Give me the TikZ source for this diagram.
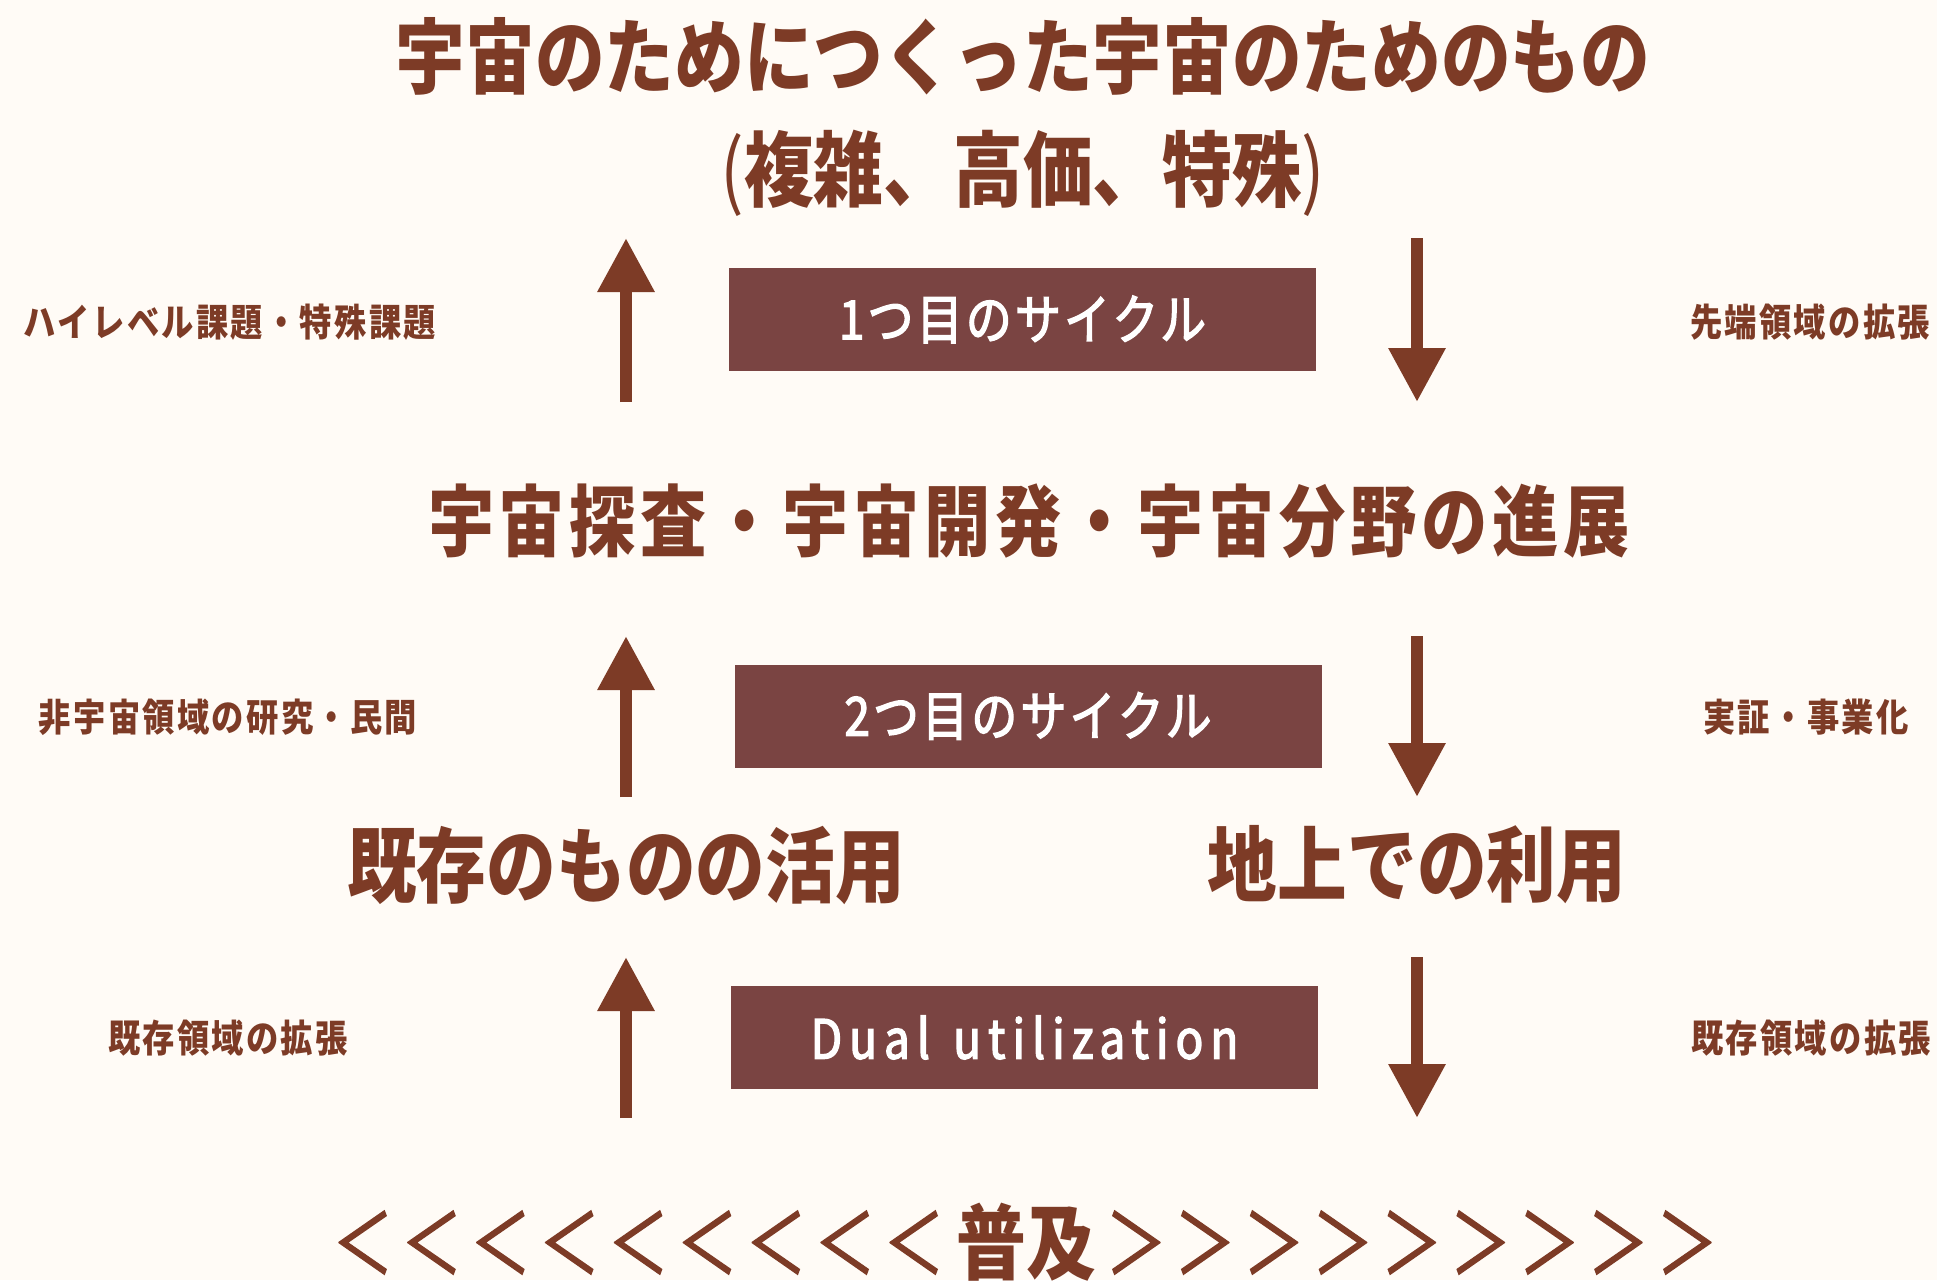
\documentclass[tikz,border=0pt]{standalone}
\usepackage{fontspec}
\usetikzlibrary{arrows.meta}
\newfontfamily\jp[FakeStretch=0.85]{Noto Sans CJK JP}
\newfontfamily\jpsp[FakeStretch=0.85,LetterSpace=6]{Noto Sans CJK JP}
\newfontfamily\jpbox[FakeStretch=0.85,LetterSpace=6,FakeBold=2.5]{Noto Sans CJK JP}
\newfontfamily\latbox[FakeStretch=0.85,LetterSpace=13,FakeBold=2.5]{Noto Sans CJK JP}
\newfontfamily\chevf[FakeStretch=0.74,LetterSpace=10,FakeBold=1.5]{Noto Sans CJK JP}
\definecolor{bgc}{RGB}{255,251,246}
\definecolor{rust}{RGB}{125,59,38}
\definecolor{boxc}{RGB}{122,68,66}
\tikzset{
  big/.style={inner sep=0pt, text=rust, font=\jp\bfseries\fontsize{82}{90}\selectfont},
  mid/.style={inner sep=0pt, text=rust, font=\jpsp\bfseries\fontsize{78}{86}\selectfont},
  side/.style={inner sep=0pt, text=rust, font=\jpsp\bfseries\fontsize{38}{44}\selectfont},
  cycbox/.style={inner sep=0pt, fill=boxc, text=white, minimum width=587pt, minimum height=103pt, font=\jpbox\fontsize{54}{60}\selectfont},
  bigarrow/.style={draw=rust, line width=12.5pt, -{Triangle[width=54pt,length=54pt]}}
}
\newcommand{\chev}[1]{{\chevf\mdseries\fontsize{82}{90}\selectfont #1}}
\newcommand{\thinp}[1]{{\mdseries #1}}
\begin{document}
\begin{tikzpicture}[x=1pt,y=-1pt]
\fill[bgc] (0,0) rectangle (1937,1280);
\useasboundingbox (0,0) rectangle (1937,1280);
% headings
\node[big] (t1) at (1023,56) {宇宙のためにつくった宇宙のためのもの};
\node[big] (t2) at (1023,173) {\thinp{(}複雑、高価、特殊\thinp{)}};
\node[mid] (m) at (1029,521) {宇宙探査・宇宙開発・宇宙分野の進展};
\node[big] (l3) at (626,865) {既存のものの活用};
\node[big] (r3) at (1417,865) {地上での利用};
\node[big] (b) at (1025,1242) {\chev{＜＜＜＜＜＜＜＜＜}\hspace{12pt}普及\hspace{10pt}\chev{＞＞＞＞＞＞＞＞＞}};
% boxes
\node[cycbox] (c1) at (1022.5,319.5) {1つ目のサイクル};
\node[cycbox] (c2) at (1028,716) {2つ目のサイクル};
\node[cycbox, font=\latbox\fontsize{54}{60}\selectfont] (c3) at (1024.5,1037.5) {Dual\hspace{6pt} utilization};
% side labels
\node[side] (sl1) at (230,322) {ハイレベル課題・特殊課題};
\node[side] (sr1) at (1810,322) {先端領域の拡張};
\node[side] (sl2) at (228,717) {非宇宙領域の研究・民間};
\node[side] (sr2) at (1806,717) {実証・事業化};
\node[side] (sl3) at (228,1038) {既存領域の拡張};
\node[side] (sr3) at (1811,1038) {既存領域の拡張};
% arrow ends
\coordinate (u1a) at (626,402); \coordinate (u1b) at (626,238);
\coordinate (d1a) at (1417,238); \coordinate (d1b) at (1417,402);
\coordinate (u2a) at (626,797); \coordinate (u2b) at (626,636);
\coordinate (d2a) at (1417,636); \coordinate (d2b) at (1417,797);
\coordinate (u3a) at (626,1118); \coordinate (u3b) at (626,957);
\coordinate (d3a) at (1417,957); \coordinate (d3b) at (1417,1118);
\draw[bigarrow] (u1a) -- (u1b);
\draw[bigarrow] (d1a) -- (d1b);
\draw[bigarrow] (u2a) -- (u2b);
\draw[bigarrow] (d2a) -- (d2b);
\draw[bigarrow] (u3a) -- (u3b);
\draw[bigarrow] (d3a) -- (d3b);
\end{tikzpicture}
\end{document}
